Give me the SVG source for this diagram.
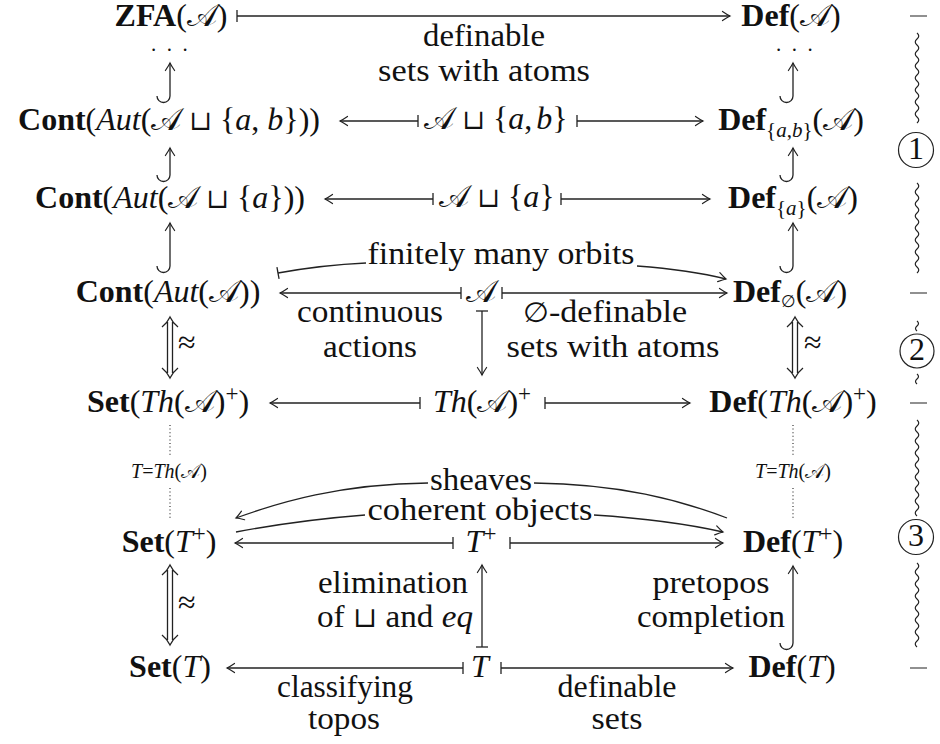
<svg xmlns="http://www.w3.org/2000/svg" width="940" height="744" viewBox="0 0 940 744">
<style>
.t{font-family:"Liberation Serif","Times New Roman",serif;font-size:32px;fill:#111}
.lb{font-family:"Liberation Serif","Times New Roman",serif;font-size:32px;fill:#111;text-anchor:middle}
.sm{font-family:"Liberation Serif","Times New Roman",serif;font-size:20px;fill:#111;text-anchor:middle}
.dt{font-family:"Liberation Serif","Times New Roman",serif;font-size:21px;fill:#111;letter-spacing:10.5px}
.b{font-weight:bold}
.i{font-style:italic}
.m{font-family:"DejaVu Serif","DejaVu Sans","Noto Sans",serif;font-style:normal;font-weight:normal}
.u{font-family:"DejaVu Serif","DejaVu Sans",serif;font-style:normal;font-weight:normal;font-size:27px}
.s{font-size:21px}
.p{font-size:23px}
.a{stroke:#222;stroke-width:1.3;fill:none}
.d{stroke:#222;stroke-width:1.1;fill:none;stroke-dasharray:1 2.6}
.w{stroke:#222;stroke-width:1.2;fill:none}
</style>
<defs>
<marker id="hd" viewBox="-10 -7 12 14" refX="0" refY="0" markerWidth="12" markerHeight="14" markerUnits="userSpaceOnUse" orient="auto" overflow="visible"><path d="M-7.5,-4.6 Q-2.5,-1.2 0,0 Q-2.5,1.2 -7.5,4.6" fill="none" stroke="#222" stroke-width="1.2" stroke-linecap="round"/></marker>
<marker id="bar" viewBox="-2 -7 4 14" refX="0" refY="0" markerWidth="4" markerHeight="14" markerUnits="userSpaceOnUse" orient="auto" overflow="visible"><path d="M0,-6 V6" stroke="#222" stroke-width="1.3"/></marker>
</defs>

<g id="connectors">
<path class="a" d="M237,16 H730" marker-start="url(#bar)" marker-end="url(#hd)"/>
<path class="a" d="M418,121 H340" marker-start="url(#bar)" marker-end="url(#hd)"/>
<path class="a" d="M577,121 H703" marker-start="url(#bar)" marker-end="url(#hd)"/>
<path class="a" d="M433,199 H325" marker-start="url(#bar)" marker-end="url(#hd)"/>
<path class="a" d="M561,199 H710" marker-start="url(#bar)" marker-end="url(#hd)"/>
<path class="a" d="M461,293 H280" marker-start="url(#bar)" marker-end="url(#hd)"/>
<path class="a" d="M502,293 H727" marker-start="url(#bar)" marker-end="url(#hd)"/>
<path class="a" d="M420,403 H270" marker-start="url(#bar)" marker-end="url(#hd)"/>
<path class="a" d="M545,403 H690" marker-start="url(#bar)" marker-end="url(#hd)"/>
<path class="a" d="M453,543 H235" marker-start="url(#bar)" marker-end="url(#hd)"/>
<path class="a" d="M510,543 H723" marker-start="url(#bar)" marker-end="url(#hd)"/>
<path class="a" d="M463,668 H227" marker-start="url(#bar)" marker-end="url(#hd)"/>
<path class="a" d="M501,668 H733" marker-start="url(#bar)" marker-end="url(#hd)"/>
<path class="a" d="M482,311 V375" marker-start="url(#bar)" marker-end="url(#hd)"/>
<path class="a" d="M482,647 V565" marker-start="url(#bar)" marker-end="url(#hd)"/>
<path class="a" d="M157,96 A6.5,6.5 0 0 0 170,96 V63" marker-end="url(#hd)"/>
<path class="a" d="M157,175 A6.5,6.5 0 0 0 170,175 V148" marker-end="url(#hd)"/>
<path class="a" d="M157,266 A6.5,6.5 0 0 0 170,266 V223" marker-end="url(#hd)"/>
<path class="a" d="M780,96 A6.5,6.5 0 0 0 793,96 V63" marker-end="url(#hd)"/>
<path class="a" d="M780,175 A6.5,6.5 0 0 0 793,175 V148" marker-end="url(#hd)"/>
<path class="a" d="M780,266 A6.5,6.5 0 0 0 793,266 V223" marker-end="url(#hd)"/>
<path class="a" d="M780,643 A6.5,6.5 0 0 0 793,643 V566" marker-end="url(#hd)"/>
<path class="a" d="M278,273 Q322,265 366,263" marker-start="url(#bar)"/>
<path class="a" d="M637,266 Q690,270 726,279" marker-end="url(#hd)"/>
<path class="a" d="M727,518 C680,500 620,484 534,483"/>
<path class="a" d="M428,483 C340,484 280,502 236,518" marker-end="url(#hd)"/>
<path class="a" d="M236,532 Q300,520 365,515"/>
<path class="a" d="M594,515 Q670,520 723,532" marker-end="url(#hd)"/>
<path class="a" d="M167.5,322 V373 M172.5,322 V373 M162,327 Q167.5,322.5 170,317 Q172.5,322.5 178,327 M162,368 Q167.5,372.5 170,378 Q172.5,372.5 178,368"/>
<path class="a" d="M792.5,322 V373 M797.5,322 V373 M787,327 Q792.5,322.5 795,317 Q797.5,322.5 803,327 M787,368 Q792.5,372.5 795,378 Q797.5,372.5 803,368"/>
<path class="a" d="M167.5,570 V640 M172.5,570 V640 M162,575 Q167.5,570.5 170,565 Q172.5,570.5 178,575 M162,635 Q167.5,639.5 170,645 Q172.5,639.5 178,635"/>
<text class="t" x="178" y="353" font-size="27">≈</text>
<text class="t" x="804" y="353" font-size="27">≈</text>
<text class="t" x="178" y="613" font-size="27">≈</text>
<path class="d" d="M170,425 V457 M170,488 V518 M793,425 V457 M793,488 V518"/>
<text class="sm" x="169" y="478"><tspan class="i">T</tspan>=<tspan class="i">Th</tspan>(<tspan class="m">𝒜</tspan>)</text>
<text class="sm" x="793" y="478"><tspan class="i">T</tspan>=<tspan class="i">Th</tspan>(<tspan class="m">𝒜</tspan>)</text>
<text class="lb" x="484" y="46" textLength="122" lengthAdjust="spacingAndGlyphs">definable</text>
<text class="lb" x="484" y="81" textLength="212" lengthAdjust="spacingAndGlyphs">sets with atoms</text>
<text class="lb" x="501" y="264" textLength="267" lengthAdjust="spacingAndGlyphs">finitely many orbits</text>
<text class="lb" x="370" y="322" textLength="146" lengthAdjust="spacingAndGlyphs">continuous</text>
<text class="lb" x="370" y="357" textLength="94" lengthAdjust="spacingAndGlyphs">actions</text>
<text class="lb" x="605" y="322" textLength="164" lengthAdjust="spacingAndGlyphs"><tspan class="m" font-size="28">∅</tspan>-definable</text>
<text class="lb" x="613" y="357" textLength="213" lengthAdjust="spacingAndGlyphs">sets with atoms</text>
<text class="lb" x="481" y="490" textLength="102" lengthAdjust="spacingAndGlyphs">sheaves</text>
<text class="lb" x="480" y="520" textLength="225" lengthAdjust="spacingAndGlyphs">coherent objects</text>
<text class="lb" x="393" y="593" textLength="150" lengthAdjust="spacingAndGlyphs">elimination</text>
<text class="lb" x="395" y="627" textLength="156" lengthAdjust="spacingAndGlyphs">of <tspan class="m" font-size="28">⊔</tspan> and <tspan class="i">eq</tspan></text>
<text class="lb" x="711" y="593" textLength="117" lengthAdjust="spacingAndGlyphs">pretopos</text>
<text class="lb" x="711" y="627" textLength="148" lengthAdjust="spacingAndGlyphs">completion</text>
<text class="lb" x="345" y="697" textLength="136" lengthAdjust="spacingAndGlyphs">classifying</text>
<text class="lb" x="344" y="729" textLength="72" lengthAdjust="spacingAndGlyphs">topos</text>
<text class="lb" x="617" y="697" textLength="119" lengthAdjust="spacingAndGlyphs">definable</text>
<text class="lb" x="617" y="729" textLength="51" lengthAdjust="spacingAndGlyphs">sets</text>
</g>

<g id="n-zfa"><text class="lb" x="171" y="26"><tspan class="b">ZFA</tspan>(<tspan class="m">𝒜</tspan>)</text></g>
<g id="n-defA"><text class="lb" x="791" y="26"><tspan class="b">Def</tspan>(<tspan class="m">𝒜</tspan>)</text></g>
<g id="n-dotsL"><text class="dt" x="151" y="51">...</text></g>
<g id="n-dotsR"><text class="dt" x="776" y="51">...</text></g>

<g id="n-cont-ab"><text class="lb" x="169" y="130"><tspan class="b">Cont</tspan>(<tspan class="i">Aut</tspan>(<tspan class="m">𝒜</tspan> <tspan class="u">⊔</tspan> {<tspan class="i">a</tspan>, <tspan class="i">b</tspan>}))</text></g>
<g id="n-A-ab"><text class="lb" x="496" y="129" font-size="29"><tspan class="m">𝒜</tspan> <tspan class="u" font-size="25">⊔</tspan> {<tspan class="i">a</tspan>,<tspan class="i" dx="4">b</tspan>}</text></g>
<g id="n-def-ab"><text class="lb" x="791" y="130"><tspan class="b">Def</tspan><tspan class="s" dy="7">{<tspan class="i">a</tspan>,<tspan class="i">b</tspan>}</tspan><tspan dy="-7">(</tspan><tspan class="m">𝒜</tspan>)</text></g>

<g id="n-cont-a"><text class="lb" x="170" y="208"><tspan class="b">Cont</tspan>(<tspan class="i">Aut</tspan>(<tspan class="m">𝒜</tspan> <tspan class="u">⊔</tspan> {<tspan class="i">a</tspan>}))</text></g>
<g id="n-A-a"><text class="lb" x="497" y="207" font-size="29"><tspan class="m">𝒜</tspan> <tspan class="u" font-size="25">⊔</tspan> {<tspan class="i">a</tspan>}</text></g>
<g id="n-def-a"><text class="lb" x="793" y="208"><tspan class="b">Def</tspan><tspan class="s" dy="7">{<tspan class="i">a</tspan>}</tspan><tspan dy="-7">(</tspan><tspan class="m">𝒜</tspan>)</text></g>

<g id="n-cont"><text class="lb" x="168" y="302"><tspan class="b">Cont</tspan>(<tspan class="i">Aut</tspan>(<tspan class="m">𝒜</tspan>))</text></g>
<g id="n-A"><text class="lb" x="481" y="302"><tspan class="m">𝒜</tspan></text></g>
<g id="n-def0"><text class="lb" x="790" y="302"><tspan class="b">Def</tspan><tspan class="m" font-size="17" dy="5">∅</tspan><tspan dy="-5">(</tspan><tspan class="m">𝒜</tspan>)</text></g>

<g id="n-setTh"><text class="lb" x="168" y="412"><tspan class="b">Set</tspan>(<tspan class="i">Th</tspan>(<tspan class="m">𝒜</tspan>)<tspan class="p" dy="-11">+</tspan><tspan dy="11">)</tspan></text></g>
<g id="n-Th"><text class="lb" x="482" y="412"><tspan class="i">Th</tspan>(<tspan class="m">𝒜</tspan>)<tspan class="p" dy="-11">+</tspan></text></g>
<g id="n-defTh"><text class="lb" x="793" y="412"><tspan class="b">Def</tspan>(<tspan class="i">Th</tspan>(<tspan class="m">𝒜</tspan>)<tspan class="p" dy="-11">+</tspan><tspan dy="11">)</tspan></text></g>

<g id="n-setTp"><text class="lb" x="169" y="552"><tspan class="b">Set</tspan>(<tspan class="i">T</tspan><tspan class="p" dy="-11">+</tspan><tspan dy="11">)</tspan></text></g>
<g id="n-Tp"><text class="lb" x="481" y="552"><tspan class="i">T</tspan><tspan class="p" dy="-11">+</tspan></text></g>
<g id="n-defTp"><text class="lb" x="793" y="552"><tspan class="b">Def</tspan>(<tspan class="i">T</tspan><tspan class="p" dy="-11">+</tspan><tspan dy="11">)</tspan></text></g>

<g id="n-setT"><text class="lb" x="170" y="677"><tspan class="b">Set</tspan>(<tspan class="i">T</tspan>)</text></g>
<g id="n-T"><text class="lb" x="480" y="677"><tspan class="i">T</tspan></text></g>
<g id="n-defT"><text class="lb" x="792" y="677"><tspan class="b">Def</tspan>(<tspan class="i">T</tspan>)</text></g>

<g id="stages">
<path class="w" d="M910,16 H927 M910,293 H927 M910,403 H927 M910,668 H927"/>
<path class="w" d="M917,33 q3.5,3 0,6 t0,6 t0,6 t0,6 t0,6 t0,6 t0,6 t0,6 t0,6 t0,6 t0,6 t0,6 t0,6 t0,6 t0,6"/>
<path class="w" d="M917,183 q3.5,3 0,6 t0,6 t0,6 t0,6 t0,6 t0,6 t0,6 t0,6 t0,6 t0,6 t0,6 t0,6 t0,6 t0,6 t0,6"/>
<path class="w" d="M917,321 q3,2.5 0,5 t0,5"/>
<path class="w" d="M917,374 q3,2.5 0,5 t0,5"/>
<path class="w" d="M917,420 q3.5,3 0,6 t0,6 t0,6 t0,6 t0,6 t0,6 t0,6 t0,6 t0,6 t0,6 t0,6 t0,6 t0,6 t0,6 t0,6 t0,6"/>
<path class="w" d="M917,563 q3.5,3 0,6 t0,6 t0,6 t0,6 t0,6 t0,6 t0,6 t0,6 t0,6 t0,6 t0,6 t0,6 t0,6 t0,6"/>
<circle class="w" cx="916" cy="150" r="17.5"/>
<circle class="w" cx="917" cy="351" r="17"/>
<circle class="w" cx="916" cy="537" r="17.5"/>
<text class="lb" x="916" y="159" font-size="27">1</text>
<text class="lb" x="917" y="360" font-size="27">2</text>
<text class="lb" x="916" y="546" font-size="27">3</text>
</g>
</svg>
